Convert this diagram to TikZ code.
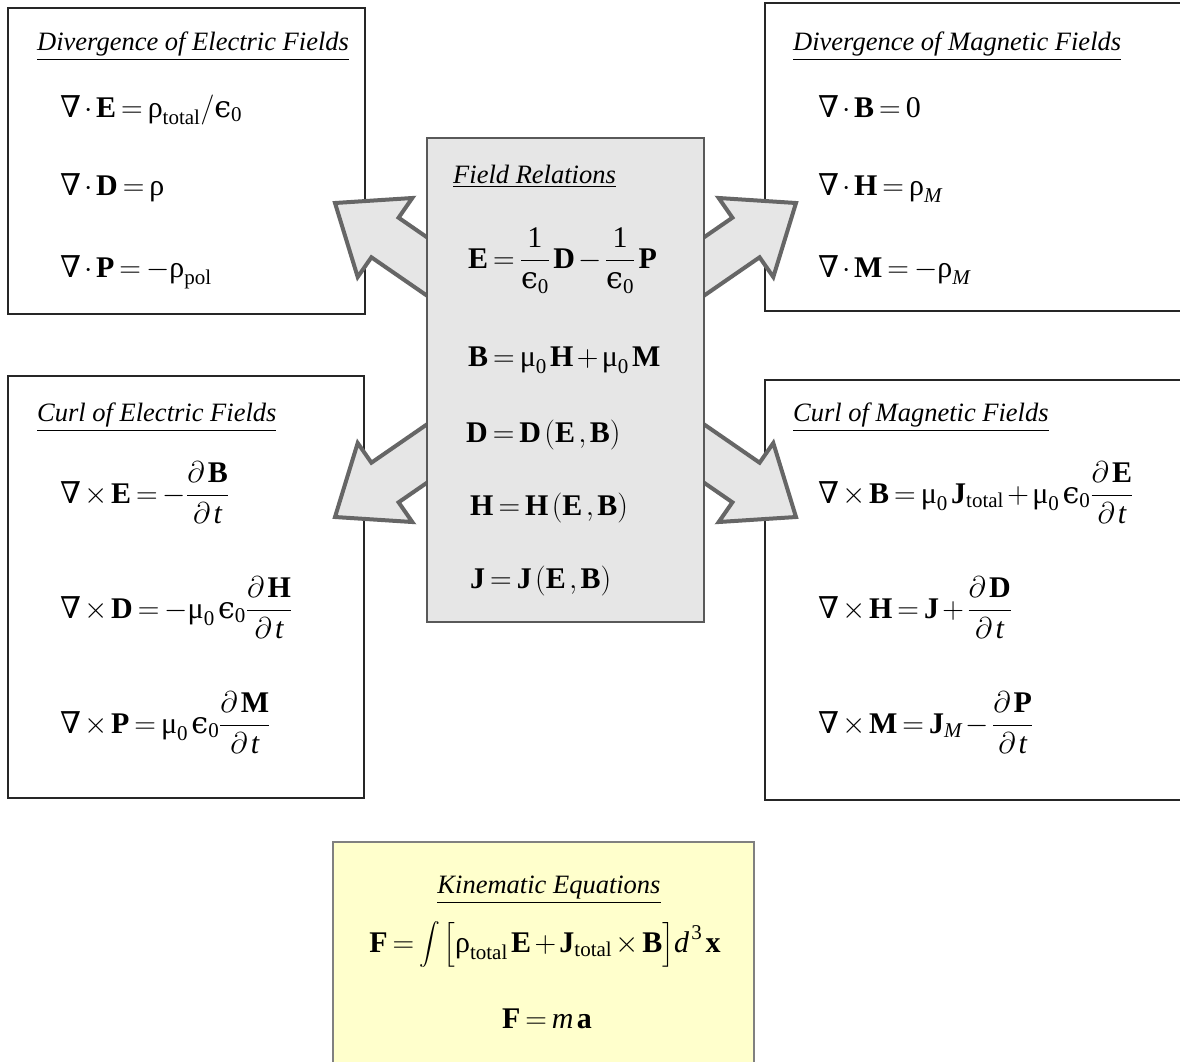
\RequirePackage{fix-cm}
\documentclass[tikz,border=0pt]{standalone}
\usepackage{amsmath}
\usepackage{fontspec}
\setmainfont{Liberation Serif}
\newfontfamily\symf{DejaVu Serif}
\newcommand\bv[1]{\textbf{#1}}
\newcommand\nab{\text{\symf ∇}}
\newcommand\eps{\text{\symf ϵ}}
\newcommand\rr{\text{ρ}}
\newcommand\mmu{\text{μ}}
\newcommand\sub[1]{\text{#1}}
\newcommand\bigintegral{\mathop{\vcenter{\hbox{\fontsize{22}{22}\selectfont$\displaystyle\int$}}}\nolimits}
\newcommand\tightmath{\thickmuskip=3mu\medmuskip=2mu\thinmuskip=2mu}
\newcommand\blockarrowpath{\draw[blockarrow] (335,203) -- (412.3,198) -- (398.6,217.7) -- (480.9,274.5) -- (453.7,314.1) -- (371.4,257.3) -- (357.7,277) -- cycle;}
\definecolor{boxgray}{HTML}{E6E6E6}
\definecolor{arrowline}{HTML}{666666}
\definecolor{kinfill}{HTML}{FFFFCC}
\tikzset{
  x=1pt, y=-1pt,
  panel/.style={draw=black!85, line width=1.2pt, fill=white},
  blockarrow/.style={draw=arrowline, fill=boxgray, line width=4pt, line join=miter},
  ttl/.style={anchor=base west, inner sep=0pt, font=\fontsize{26.5}{30}\selectfont\itshape},
  eq/.style={anchor=base west, inner sep=0pt, font=\fontsize{30}{36}\selectfont\tightmath},
}
\begin{document}
\begin{tikzpicture}
\clip (0,0) rectangle (1180,1061);
\fill[white] (0,0) rectangle (1180,1061);
% panels
\draw[panel] (8,8) rectangle (365,314);
\draw[panel] (765,3) rectangle (1200,311);
\draw[panel] (8,376) rectangle (364,798);
\draw[panel] (765,380) rectangle (1200,800);
% block arrows
\begin{scope}\blockarrowpath\end{scope}
\begin{scope}[shift={(1131,0)},xscale=-1]\blockarrowpath\end{scope}
\begin{scope}[shift={(0,720)},yscale=-1]\blockarrowpath\end{scope}
\begin{scope}[shift={(1131,720)},xscale=-1,yscale=-1]\blockarrowpath\end{scope}
% central and kinematic boxes
\draw[draw=black!65, line width=1.5pt, fill=boxgray] (427,138) rectangle (704,622);
\draw[draw=black!50, line width=1.5pt, fill=kinfill] (333,842) rectangle (754,1080);

% Divergence of Electric Fields
\node[ttl] (t1) at (37,50) {\underline{Divergence of Electric Fields}};
\node[eq] (e11) at (60,117) {$\nab\cdot\bv{E}=\rr_{\sub{total}}/\eps_{\sub{0}}$};
\node[eq] (e12) at (60,195) {$\nab\cdot\bv{D}=\rr$};
\node[eq] (e13) at (60,277) {$\nab\cdot\bv{P}=-\rr_{\sub{pol}}$};

% Divergence of Magnetic Fields
\node[ttl] (t2) at (793,50) {\underline{Divergence of Magnetic Fields}};
\node[eq] (e21) at (818,117) {$\nab\cdot\bv{B}=\text{0}$};
\node[eq] (e22) at (818,195) {$\nab\cdot\bv{H}=\rr_{\textit{M}}$};
\node[eq] (e23) at (818,277) {$\nab\cdot\bv{M}=-\rr_{\textit{M}}$};

% Curl of Electric Fields
\node[ttl] (t3) at (37,421) {\underline{Curl of Electric Fields}};
\node[eq] (e31) at (60,503) {$\nab\times\bv{E}=-\dfrac{\partial\,\bv{B}}{\partial\,\textit{t}}$};
\node[eq] (e32) at (60,618) {$\nab\times\bv{D}=-\mmu_{\sub0}\,\eps_{\sub0}\dfrac{\partial\,\bv{H}}{\partial\,\textit{t}}$};
\node[eq] (e33) at (60,733) {$\nab\times\bv{P}=\mmu_{\sub0}\,\eps_{\sub0}\dfrac{\partial\,\bv{M}}{\partial\,\textit{t}}$};

% Curl of Magnetic Fields
\node[ttl] (t4) at (793,421) {\underline{Curl of Magnetic Fields}};
\node[eq] (e41) at (818,503) {$\nab\times\bv{B}=\mmu_{\sub0}\,\bv{J}_{\sub{total}}+\mmu_{\sub0}\,\eps_{\sub0}\dfrac{\partial\,\bv{E}}{\partial\,\textit{t}}$};
\node[eq] (e42) at (818,618) {$\nab\times\bv{H}=\bv{J}+\dfrac{\partial\,\bv{D}}{\partial\,\textit{t}}$};
\node[eq] (e43) at (818,733) {$\nab\times\bv{M}=\bv{J}_{\textit{M}}-\dfrac{\partial\,\bv{P}}{\partial\,\textit{t}}$};

% Field Relations
\node[ttl] (t5) at (453,183) {\underline{Field Relations}};
\node[eq] (f1) at (468,268) {$\bv{E}=\dfrac{\text{1}}{\eps_{\sub0}}\,\bv{D}-\dfrac{\text{1}}{\eps_{\sub0}}\,\bv{P}$};
\node[eq] (f2) at (468,366) {$\bv{B}=\mmu_{\sub0}\,\bv{H}+\mmu_{\sub0}\,\bv{M}$};
\node[eq] (f3) at (466,442) {$\bv{D}=\bv{D}\,(\bv{E}\,,\bv{B})$};
\node[eq] (f4) at (470,515) {$\bv{H}=\bv{H}\,(\bv{E}\,,\bv{B})$};
\node[eq] (f5) at (470,588) {$\bv{J}=\bv{J}\,(\bv{E}\,,\bv{B})$};

% Kinematic Equations
\node[ttl, anchor=base] (t6) at (549,893) {\underline{Kinematic Equations}};
\node[eq, anchor=base] (k1) at (545,952) {$\bv{F}=\bigintegral\,\bigl[\rr_{\sub{total}}\,\bv{E}+\bv{J}_{\sub{total}}\times\bv{B}\bigr]\textit{d}^{\,\text{3}}\,\bv{x}$};
\node[eq, anchor=base] (k2) at (547,1028) {$\bv{F}=\textit{m}\,\bv{a}$};
\end{tikzpicture}
\end{document}
